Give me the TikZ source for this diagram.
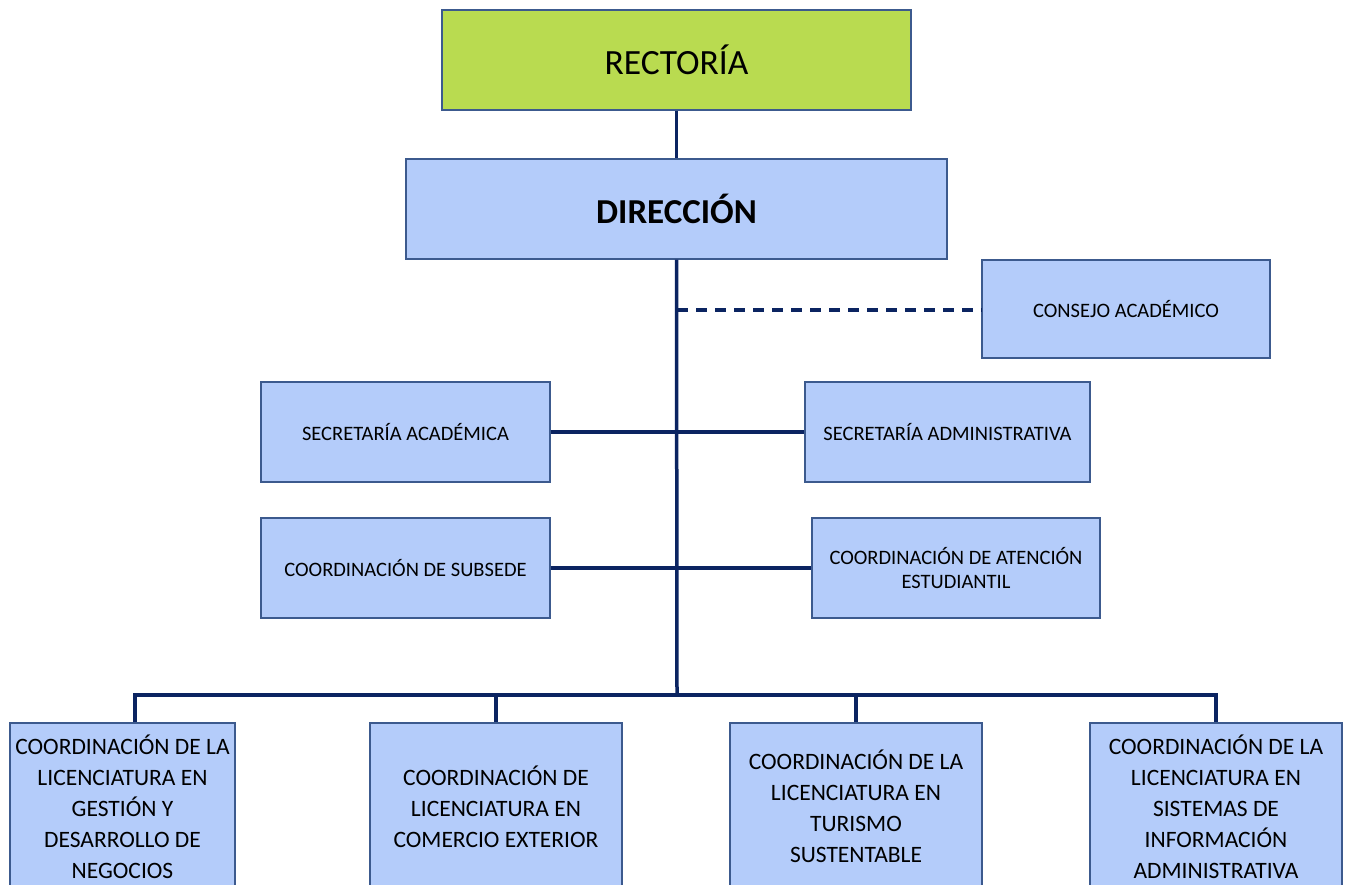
\documentclass[tikz,border=0pt]{standalone}
\usepackage{fontspec}
\setmainfont{Carlito}
\definecolor{boxblue}{HTML}{B4CCFA}
\definecolor{boxgreen}{HTML}{B9DB50}
\definecolor{edge}{HTML}{3C5A8E}
\definecolor{navy}{HTML}{0B2461}
\begin{document}
\begin{tikzpicture}[x=1pt,y=-1pt,
  orgbox/.style={draw=edge, line width=1.2pt, fill=boxblue, align=flush center, inner sep=2pt},
  small/.style={font=\fontsize{20.5}{24}\selectfont},
  big/.style={font=\fontsize{23.5}{31}\selectfont},
  link/.style={draw=navy, line width=3.5pt},
  dlink/.style={draw=navy, line width=3.5pt, dash pattern=on 11pt off 8pt}]
\useasboundingbox (0,0) rectangle (1346,884);
\clip (0,0) rectangle (1346,884);
\fill[white] (0,0) rectangle (1346,884);
% top boxes
\node[orgbox, fill=boxgreen, minimum width=469pt, minimum height=100pt, font=\fontsize{35.5}{40}\selectfont] (rect) at (676.5,60) {RECTORÍA};
\node[orgbox, minimum width=541pt, minimum height=100pt, font=\fontsize{35}{40}\selectfont\bfseries] (dir) at (676.5,209) {DIRECCIÓN};
\node[orgbox, small, minimum width=288pt, minimum height=98pt] (cons) at (1126,309) {CONSEJO ACADÉMICO};
\node[orgbox, small, minimum width=289pt, minimum height=100pt] (seca) at (405.5,432) {SECRETARÍA ACADÉMICA};
\node[orgbox, small, minimum width=285pt, minimum height=100pt] (secd) at (947.5,432) {SECRETARÍA ADMINISTRATIVA};
\node[orgbox, small, minimum width=289pt, minimum height=100pt] (subs) at (405.5,568) {COORDINACIÓN DE SUBSEDE};
\node[orgbox, small, minimum width=288pt, minimum height=100pt, text width=278pt] (aten) at (956,568) {COORDINACIÓN DE ATENCIÓN\\ESTUDIANTIL};
% bottom boxes
\node[orgbox, big, minimum width=225pt, minimum height=167pt, text width=221pt] (lic1) at (122.5,806.5) {COORDINACIÓN DE LA\\LICENCIATURA EN\\GESTIÓN Y\\DESARROLLO DE\\NEGOCIOS};
\node[orgbox, big, minimum width=252pt, minimum height=167pt, text width=246pt] (lic2) at (496,806.5) {COORDINACIÓN DE\\LICENCIATURA EN\\COMERCIO EXTERIOR};
\node[orgbox, big, minimum width=252pt, minimum height=167pt, text width=246pt] (lic3) at (856,806.5) {COORDINACIÓN DE LA\\LICENCIATURA EN\\TURISMO\\SUSTENTABLE};
\node[orgbox, big, minimum width=252pt, minimum height=167pt, text width=248pt] (lic4) at (1216,806.5) {COORDINACIÓN DE LA\\LICENCIATURA EN\\SISTEMAS DE\\INFORMACIÓN\\ADMINISTRATIVA};
% connectors
\coordinate (bus) at (677,695);
\coordinate (dash) at (677,310);
\coordinate (d1) at ([xshift=12.5pt]lic1.north);
\draw[link] (rect.south) -- (dir.north);
\draw[link] (dir.south) -- (bus);
\draw[dlink] (dash) -- (dash -| cons.west);
\draw[link] (seca.east) -- (secd.west);
\draw[link] (subs.east) -- (aten.west);
\draw[link, line join=miter] (d1) -- (d1 |- bus) -- (lic4.north |- bus) -- (lic4.north);
\draw[link] (lic2.north |- bus) -- (lic2.north);
\draw[link] (lic3.north |- bus) -- (lic3.north);
\end{tikzpicture}
\end{document}
